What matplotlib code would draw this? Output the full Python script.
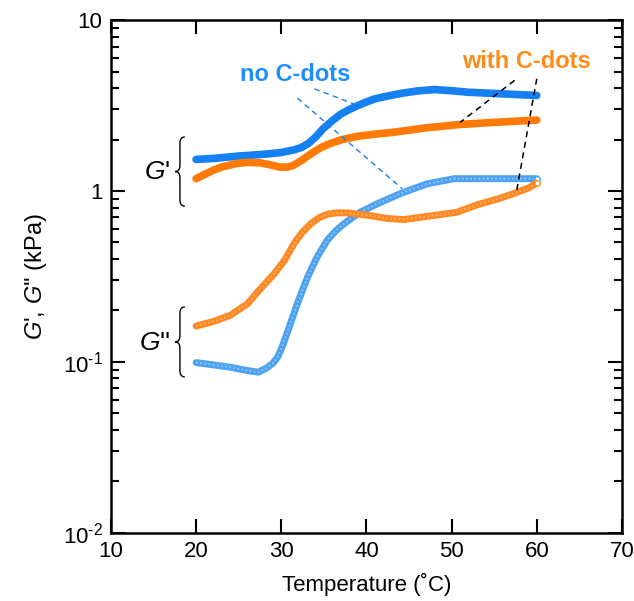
import numpy as np
import matplotlib
matplotlib.use("Agg")
import matplotlib.pyplot as plt
from matplotlib.path import Path
from matplotlib.patches import PathPatch

plt.rcParams['font.family'] = ['Liberation Sans', 'DejaVu Sans']
plt.rcParams['mathtext.fontset'] = 'custom'
plt.rcParams['mathtext.rm'] = 'Liberation Sans'
plt.rcParams['mathtext.it'] = 'Liberation Sans:italic'

# ===== data =====
# G' no C-dots
t_gp_no = [20, 22, 25, 28, 30, 31.5, 32.4, 33.2, 34, 34.9, 36, 37, 38, 39, 40, 41, 42, 44, 46,
           48, 50, 52, 55, 58, 60]
v_gp_no = [1.53, 1.55, 1.6, 1.64, 1.68, 1.74, 1.8, 1.9, 2.06, 2.31, 2.58, 2.82, 3.0, 3.16, 3.32,
           3.46, 3.55, 3.72, 3.85, 3.92, 3.86, 3.78, 3.72, 3.66, 3.62]

# G' with C-dots
t_gp_with = [20, 21, 22, 23, 24.8, 26, 27.5, 28.5, 29.8, 30.8, 31.4, 32.3, 33.8, 34.7, 35.7,
             37, 39, 41, 43, 47, 51, 55, 60]
v_gp_with = [1.18, 1.25, 1.32, 1.38, 1.45, 1.47, 1.46, 1.43, 1.38, 1.38, 1.41, 1.5, 1.69, 1.8,
             1.89, 1.99, 2.09, 2.15, 2.2, 2.34, 2.45, 2.52, 2.6]

# G'' no C-dots
t_gpp_no = [20, 22, 24, 26, 27.3, 28.2, 29, 29.6, 30.2, 30.8, 31.9, 33.1, 34.2, 35.4, 36.4,
            37.4, 39.3, 41.3, 44, 47.1, 50.3, 55, 60]
v_gpp_no = [0.099, 0.096, 0.093, 0.089, 0.087, 0.0915, 0.098, 0.107, 0.126, 0.153, 0.22,
            0.314, 0.41, 0.515, 0.585, 0.645, 0.753, 0.843, 0.966, 1.10, 1.18, 1.18, 1.18]

# G'' with C-dots
t_gpp_with = [20, 22, 24, 26, 27.6, 29.2, 30.4, 31.5, 32.5, 33.5, 34.5, 35.4, 36.5, 37.8,
              40.1, 42.5, 44.4, 47.1, 50.6, 53, 55.5, 57.8, 59, 60]
v_gpp_with = [0.162, 0.172, 0.187, 0.218, 0.269, 0.329, 0.394, 0.493, 0.575, 0.645, 0.7, 0.731,
              0.745, 0.744, 0.721, 0.69, 0.68, 0.71, 0.75, 0.83, 0.9, 0.986, 1.04, 1.11]

x_ticks = [10, 20, 30, 40, 50, 60, 70]
y_ticks = [0.01, 0.1, 1, 10]
y_ticklabels = [r'$\mathregular{10^{\text{-}2}}$', r'$\mathregular{10^{\text{-}1}}$', '1', '10']

blue = '#1480F2'
blue_light = '#4EA2F2'
orange = '#FF7A05'
orange_light = '#FF8A25'

# ===== figure =====
fig = plt.figure(figsize=(6.34, 6.01), dpi=100)
ax = fig.add_axes([0.175, 0.1136, 0.806, 0.853])

ax.plot(t_gp_no, v_gp_no, color=blue, lw=5.5, solid_capstyle='round')
ax.plot(t_gp_with, v_gp_with, color=orange, lw=5.5, solid_capstyle='round')
for t, v, c, tint in [(t_gpp_no, v_gpp_no, blue_light, '#B8DBFB'),
                      (t_gpp_with, v_gpp_with, orange_light, '#FFC48F')]:
    ax.plot(t, v, color=c, lw=5, solid_capstyle='round')
    ax.plot(t, v, color=tint, lw=1.2, ls=(0, (1, 1.5)), alpha=0.7)
    ax.plot(t[-1], v[-1], 'o', ms=4, mfc='white', mec=c, mew=1)

# leader lines
ax.plot([33.9, 38.8], [3.96, 3.19], color=blue, lw=1, ls=(0, (4, 3)))
ax.plot([31.9, 44.2], [3.49, 1.03], color=blue, lw=1, ls=(0, (4, 3)))
ax.plot([57.4, 51.0], [4.44, 2.52], color='black', lw=1.1, ls=(0, (4, 3)))
ax.plot([60.0, 57.6], [4.54, 0.98], color='black', lw=1.1, ls=(0, (4, 3)))

ax.text(31.6, 4.79, 'no C-dots', color='#1E8EFA', fontsize=17, fontweight='bold',
        ha='center', va='center')
ax.text(58.8, 5.74, 'with C-dots', color='#FF8C1A', fontsize=17, fontweight='bold',
        ha='center', va='center')

# braces
def brace(y0, y1, x=0.135, w=0.012):
    ym = (y0 + y1) / 2
    h = 0.012
    verts = [(x + w * 0.8, y1), (x, y1), (x, y1 - h),
             (x, ym + h), (x, ym), (x - w * 0.8, ym),
             (x, ym), (x, ym - h),
             (x, y0 + h), (x, y0), (x + w * 0.8, y0)]
    codes = [Path.MOVETO, Path.CURVE3, Path.CURVE3,
             Path.LINETO, Path.CURVE3, Path.CURVE3,
             Path.CURVE3, Path.CURVE3,
             Path.LINETO, Path.CURVE3, Path.CURVE3]
    ax.add_patch(PathPatch(Path(verts, codes), fill=False, lw=1.0, color='black',
                           transform=ax.transAxes, clip_on=False))

brace(0.637, 0.772)
brace(0.304, 0.4405)
ax.text(0.09, 0.703, r"$\mathit{G}$'", transform=ax.transAxes, fontsize=19,
        ha='center', va='center')
ax.text(0.085, 0.371, r"$\mathit{G}$''", transform=ax.transAxes, fontsize=19,
        ha='center', va='center')

# ===== axes =====
ax.set_yscale('log')
ax.set_xlim(10, 70)
ax.set_ylim(0.01, 10)
ax.set_xticks(x_ticks)
ax.set_yticks(y_ticks)
ax.set_yticklabels(y_ticklabels)
ax.tick_params(which='major', direction='in', length=10, width=1.5, labelsize=16,
               top=True, right=True, pad=6)
ax.tick_params(which='minor', direction='in', length=6, width=1.5, top=True, right=True)
ax.tick_params(axis='x', which='minor', bottom=False, top=False)
for s in ax.spines.values():
    s.set_linewidth(1.8)

ax.set_xlabel('Temperature (˚C)', fontsize=16, labelpad=8)
ax.set_ylabel(r"$\mathit{G}$', $\mathit{G}$'' (kPa)", fontsize=17, labelpad=10)

fig.savefig('out.png', dpi=100)
